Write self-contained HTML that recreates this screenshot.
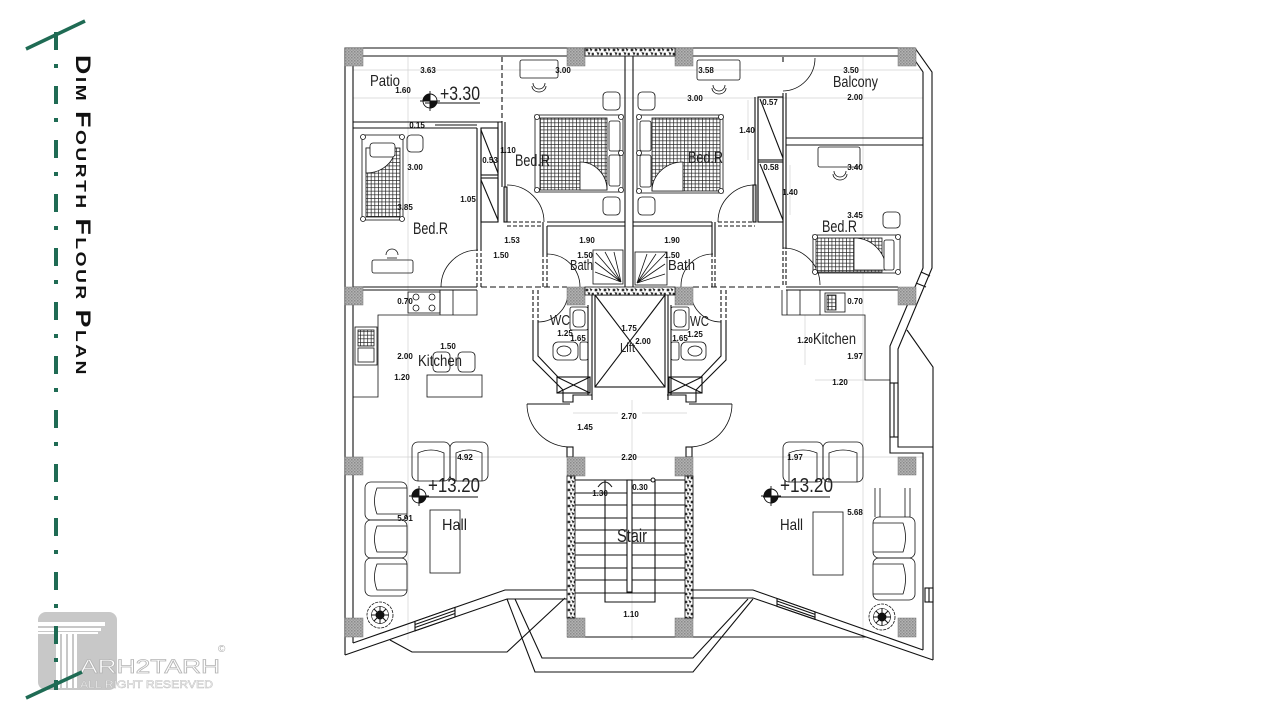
<!DOCTYPE html>
<html><head><meta charset="utf-8"><title>Dim Fourth Flour Plan</title>
<style>html,body{margin:0;padding:0;background:#fff;overflow:hidden}svg{display:block}</style>
</head><body>
<svg width="1280" height="720" viewBox="0 0 1280 720" xmlns="http://www.w3.org/2000/svg" font-family="'Liberation Sans', Arial, sans-serif">
<defs>
<pattern id="col" width="3" height="3" patternUnits="userSpaceOnUse"><rect width="3" height="3" fill="#b2b2b2"/><rect width="1.5" height="1.5" fill="#8a8a8a"/><rect x="1.5" y="1.5" width="1.5" height="1.5" fill="#999"/></pattern>
<pattern id="stone" width="9" height="8" patternUnits="userSpaceOnUse"><rect width="9" height="8" fill="#fff"/><path d="M1 1h2v2h-2z M5 0.5l2 1l-1 1.5z M3 4.5l2 0.5l-1 2z M7 5h1.5v2h-1.5z" fill="#333" stroke="#222" stroke-width="0.6"/></pattern>
<pattern id="grid" width="3.6" height="3.6" patternUnits="userSpaceOnUse"><rect width="3.6" height="3.6" fill="#fff"/><path d="M0 0.3H3.6M0.3 0V3.6" stroke="#222" stroke-width="0.8"/></pattern>
</defs>
<rect width="1280" height="720" fill="#fff"/>

<!-- logo -->
<rect x="38" y="612" width="79" height="78" rx="8" fill="#c8c8c8"/>
<g fill="#fff">
<rect x="30" y="622" width="75" height="4"/><rect x="33" y="628" width="68" height="3"/><rect x="36" y="632" width="62" height="2"/>
<rect x="56" y="634" width="4" height="54"/><rect x="62" y="634" width="4" height="54"/><rect x="68" y="634" width="4" height="54"/><rect x="74" y="634" width="3" height="54"/>
</g>
<text x="80" y="673" font-size="19" textLength="140" lengthAdjust="spacingAndGlyphs" fill="#fff" stroke="#b5b5b5" stroke-width="0.7">ARH2TARH</text>
<text x="80" y="688" font-size="11" textLength="133" lengthAdjust="spacingAndGlyphs" fill="#fff" stroke="#bcbcbc" stroke-width="0.5">ALL RIGHT RESERVED</text>
<text x="218" y="652" font-size="10" fill="#aaa">©</text>

<!-- green dashed line -->
<line x1="56" y1="32" x2="56" y2="690" stroke="#1f6b54" stroke-width="4" stroke-dasharray="18 14 4 18"/>
<line x1="26" y1="49" x2="85" y2="21" stroke="#1f6b54" stroke-width="3.5"/>
<line x1="26" y1="698" x2="82" y2="672" stroke="#1f6b54" stroke-width="3.5"/>

<!-- title -->
<g transform="translate(76,55) rotate(90)">
<text x="0" y="0" font-weight="bold" fill="#111" textLength="322" lengthAdjust="spacingAndGlyphs" letter-spacing="2"><tspan font-size="21">D</tspan><tspan font-size="15">IM </tspan><tspan font-size="21">F</tspan><tspan font-size="15">OURTH </tspan><tspan font-size="21">F</tspan><tspan font-size="15">LOUR </tspan><tspan font-size="21">P</tspan><tspan font-size="15">LAN</tspan></text>
</g>

<!-- gray axis lines -->
<g stroke="#d2d2d2" stroke-width="0.7">
<line x1="353" y1="70" x2="923" y2="70"/>
<line x1="353" y1="98" x2="923" y2="98"/>
<line x1="353" y1="457" x2="923" y2="457"/>
<line x1="408" y1="57" x2="408" y2="640"/>
<line x1="632" y1="400" x2="632" y2="640"/>
<line x1="863" y1="57" x2="863" y2="640"/>
<line x1="573" y1="413" x2="618" y2="413"/>
<line x1="642" y1="413" x2="687" y2="413"/>
<line x1="748" y1="100" x2="748" y2="160"/>
<line x1="790" y1="165" x2="790" y2="215"/>
<line x1="805" y1="315" x2="805" y2="365"/>
<line x1="815" y1="380" x2="865" y2="380"/>
</g>

<!-- main walls -->
<g fill="none" stroke="#111" stroke-width="1.1">
<path d="M345,655 V48 H915 L932,72 V268 L898,349 V447 H933"/>
<path d="M353,643 V56 H912 L923,72 V268 L890,346 V453 H923 V650"/>
<path d="M907,330 L933,367 V660"/>
<path d="M353,643 L505,590 H567"/>
<path d="M345,655 L507,599 H567"/>
<path d="M693,590 H753 L923,650"/>
<path d="M693,598 H753 L933,660"/>
<path d="M507,599 L535,672 H693 L753,599"/>
<path d="M515,599 L542,658 H693 L748,599"/>
<path d="M565,598 L507,652 H412 L390,640"/>
<path d="M693,637 H866"/>
<path d="M567,637 H693"/>
<!-- right side window on bay -->
<rect x="890" y="383" width="8" height="54" fill="#fff"/>
<line x1="894" y1="383" x2="894" y2="437"/>
<path d="M921,272 L930,276 M916,283 L926,287"/>
<rect x="925" y="588" width="8" height="14" fill="#fff"/>
<line x1="929" y1="588" x2="929" y2="602"/>
<!-- bottom windows -->
<polygon points="415,621.4 455,607.4 455,617 415,630.8" fill="#fff"/>
<path d="M415,624.5 L455,610.5 M415,627.5 L455,613.5"/>
<polygon points="777,598.5 815,611.9 815,619.3 777,606.3" fill="#fff"/>
<path d="M777,601 L815,614.4 M777,604 L815,617.2"/>

<!-- patio -->
<path d="M353,122 H502 M353,128 H477"/>
<path d="M435,125 H477"/>
<line x1="502" y1="57" x2="502" y2="122" stroke-dasharray="5 3"/>
<!-- left bedroom right wall / corridor -->
<path d="M477,128 V247 M481,128 V247"/>
<path d="M477,247 V287 M481,247 V287" stroke-dasharray="4 2"/>
<rect x="481" y="128" width="17" height="47"/><path d="M481,130 L498,173"/>
<rect x="481" y="178" width="17" height="44"/><path d="M481,180 L498,220"/>
<path d="M498,122 V222 M502,122 V187 M505,122 V187"/>
<rect x="504" y="187" width="3" height="35" fill="#ccc"/>
<path d="M507,185 A37,37 0 0 1 544,222" stroke-width="0.8"/>
<path d="M507,222 H543 M507,226 H543" stroke-dasharray="4 2"/>
<path d="M441,287 A37,37 0 0 1 478,250" stroke-width="0.8"/>
<!-- left bath -->
<path d="M543,222 V253 M547,226 V253 M547,222 H625 M547,226 H625"/>
<path d="M543,253 V287 M547,253 V287" stroke-dasharray="4 2"/>
<path d="M547,254 A33,33 0 0 1 580,287" stroke-width="0.8"/>
<path d="M625,56 V287 M633,56 V287"/>
<!-- right bath / corridor -->
<path d="M633,222 H712 M633,226 H712 M712,222 V253 M715,222 V253"/>
<path d="M712,253 V287 M715,253 V287" stroke-dasharray="4 2"/>
<path d="M713,254 A32,32 0 0 0 681,287" stroke-width="0.8"/>
<path d="M718,222 H755 M718,226 H755" stroke-dasharray="4 2"/>
<rect x="753" y="185" width="3" height="37" fill="#ccc"/>
<path d="M755,185 A37,37 0 0 0 718,222" stroke-width="0.8"/>
<path d="M755,97 V185 M758,97 V222"/>
<rect x="758" y="97" width="25" height="63"/><path d="M760,99 L783,158"/>
<rect x="758" y="162" width="25" height="60"/><path d="M760,164 L783,220"/>
<path d="M783,93 V245 M786,93 V245"/>
<path d="M783,245 V287 M786,245 V287" stroke-dasharray="4 2"/>
<path d="M783,248 A37,37 0 0 1 820,285" stroke-width="0.8"/>
<path d="M786,138 H923 M786,145 H923"/>
<path d="M815,58 A33,33 0 0 1 783,91" stroke-width="0.8"/>
<path d="M783,57 V62"/>
<!-- level 287 walls -->
<path d="M353,287 H477 M363,290 H477 M786,287 H898 M786,290 H898"/>
<path d="M481,287 H567 M693,287 H783" stroke-dasharray="6 3"/>

<!-- left WC -->
<path d="M533,290 V322 M538,290 V322" stroke-dasharray="4 2"/>
<path d="M533,322 V360 L563,390 V402 H573 V395 H592"/>
<path d="M538,322 V356 L558,377"/>
<path d="M588,305 V395 M592,295 V400"/>
<rect x="557" y="377" width="33" height="16"/><path d="M557,377 L590,393 M590,377 L557,393"/>
<path d="M538,322 A30,30 0 0 0 568,292" stroke-width="0.8"/>
<!-- lift -->
<rect x="595" y="295" width="70" height="92"/>
<path d="M595,295 L665,387 M665,295 L595,387"/>
<path d="M668,295 V400"/>
<!-- right WC -->
<path d="M726,290 V322 M721,290 V322" stroke-dasharray="4 2"/>
<path d="M726,322 V360 L696,390 V402 H686 V395 H667"/>
<path d="M721,322 V356 L701,377"/>
<path d="M671,305 V395"/>
<rect x="669" y="377" width="33" height="16"/><path d="M669,377 L702,393 M702,377 L669,393"/>
<path d="M721,322 A30,30 0 0 1 691,292" stroke-width="0.8"/>
<!-- hall doors -->
<path d="M527,404 H570 M689,404 H732"/>
<path d="M527,404 A43,43 0 0 0 570,447" stroke-width="0.8"/>
<path d="M732,404 A43,43 0 0 1 689,447" stroke-width="0.8"/>
<rect x="567" y="447" width="6" height="10"/><rect x="686" y="447" width="6" height="10"/>

<!-- stair -->
<path d="M575,480 H685 M575,493 H685 M575,505 H685 M575,518 H685 M575,530 H685 M575,543 H685 M575,555 H685 M575,568 H685 M575,580 H685 M575,593 H685"/>
<path d="M605,480 V602 H655 V480"/>
<rect x="627" y="480" width="5" height="112" fill="#fff"/>
<path d="M598,487 Q605,477 612,487 M605,480 V489" stroke-width="1"/>
<circle cx="653" cy="480" r="2" fill="#fff"/>
</g>

<!-- columns -->
<g stroke="#777" stroke-width="0.5">
<rect x="345" y="48" width="18" height="18" fill="url(#col)"/>
<rect x="567" y="48" width="18" height="18" fill="url(#col)"/>
<rect x="675" y="48" width="18" height="18" fill="url(#col)"/>
<rect x="898" y="48" width="18" height="18" fill="url(#col)"/>
<rect x="345" y="287" width="18" height="18" fill="url(#col)"/>
<rect x="567" y="287" width="18" height="18" fill="url(#col)"/>
<rect x="675" y="287" width="18" height="18" fill="url(#col)"/>
<rect x="898" y="287" width="18" height="18" fill="url(#col)"/>
<rect x="345" y="457" width="18" height="18" fill="url(#col)"/>
<rect x="567" y="457" width="18" height="19" fill="url(#col)"/>
<rect x="675" y="457" width="18" height="19" fill="url(#col)"/>
<rect x="898" y="457" width="18" height="18" fill="url(#col)"/>
<rect x="345" y="618" width="18" height="19" fill="url(#col)"/>
<rect x="567" y="618" width="18" height="19" fill="url(#col)"/>
<rect x="675" y="618" width="18" height="19" fill="url(#col)"/>
<rect x="898" y="618" width="18" height="19" fill="url(#col)"/>
</g>
<!-- stone bands -->
<g stroke="#111" stroke-width="0.8">
<rect x="585" y="48" width="90" height="8" fill="url(#stone)"/>
<rect x="585" y="287" width="90" height="8" fill="url(#stone)"/>
<rect x="567" y="476" width="8" height="142" fill="url(#stone)"/>
<rect x="685" y="476" width="8" height="142" fill="url(#stone)"/>
</g>

<!-- furniture -->
<g fill="none" stroke="#111" stroke-width="0.8">
<!-- left bedroom -->
<rect x="362" y="135" width="41" height="85"/>
<rect x="366" y="148" width="34" height="69" fill="url(#grid)"/>
<path d="M366,148 H395 A29,25 0 0 1 366,173 Z" fill="#fff"/>
<rect x="370" y="143" width="25" height="14" rx="3" fill="#fff"/>
<circle cx="363" cy="137" r="2.5" fill="#fff"/><circle cx="402" cy="137" r="2.5" fill="#fff"/><circle cx="363" cy="219" r="2.5" fill="#fff"/><circle cx="402" cy="219" r="2.5" fill="#fff"/>
<rect x="407" y="135" width="16" height="17" rx="4"/>
<rect x="372" y="260" width="41" height="13" rx="2"/>
<path d="M386,255 A6,6 0 1 1 398,255"/><path d="M387,258 H397"/>
<!-- middle-left bedroom -->
<rect x="520" y="60" width="38" height="18" rx="2"/>
<path d="M533,83 A6,6 0 0 0 545,83"/><path d="M532,86 A7,6 0 0 0 546,86"/>
<rect x="603" y="92" width="17" height="18" rx="4"/>
<rect x="603" y="197" width="17" height="18" rx="4"/>
<rect x="535" y="115" width="88" height="77"/>
<rect x="540" y="118" width="67" height="72" fill="url(#grid)"/>
<path d="M580,162 V190 H607 A27,28 0 0 0 580,162 Z" fill="#fff"/>
<rect x="609" y="121" width="11" height="30" rx="2" fill="#fff"/><rect x="609" y="155" width="11" height="31" rx="2" fill="#fff"/>
<circle cx="537" cy="117" r="2.5" fill="#fff"/><circle cx="621" cy="117" r="2.5" fill="#fff"/><circle cx="537" cy="190" r="2.5" fill="#fff"/><circle cx="621" cy="190" r="2.5" fill="#fff"/><circle cx="621" cy="153" r="2.5" fill="#fff"/>
<!-- middle-right bedroom -->
<rect x="697" y="60" width="43" height="20" rx="2"/>
<path d="M713,85 A6,6 0 0 0 725,85"/><path d="M712,88 A7,6 0 0 0 726,88"/>
<rect x="638" y="92" width="17" height="18" rx="4"/>
<rect x="638" y="197" width="17" height="18" rx="4"/>
<rect x="637" y="115" width="86" height="78"/>
<rect x="652" y="118" width="68" height="73" fill="url(#grid)"/>
<path d="M683,162 V191 H652 A31,29 0 0 1 683,162 Z" fill="#fff"/>
<rect x="640" y="121" width="11" height="30" rx="2" fill="#fff"/><rect x="640" y="155" width="11" height="32" rx="2" fill="#fff"/>
<circle cx="639" cy="117" r="2.5" fill="#fff"/><circle cx="721" cy="117" r="2.5" fill="#fff"/><circle cx="639" cy="191" r="2.5" fill="#fff"/><circle cx="721" cy="191" r="2.5" fill="#fff"/><circle cx="639" cy="153" r="2.5" fill="#fff"/>
<!-- right bedroom -->
<rect x="818" y="147" width="42" height="20" rx="2"/>
<path d="M834,171 A6,6 0 0 0 846,171"/><path d="M833,174 A7,6 0 0 0 847,174"/>
<rect x="883" y="212" width="17" height="16" rx="4"/>
<rect x="813" y="235" width="87" height="38"/>
<rect x="816" y="238" width="66" height="34" fill="url(#grid)"/>
<path d="M854,270 V238 A32,32 0 0 1 886,270 Z" fill="#fff"/>
<rect x="884" y="240" width="10" height="30" rx="2" fill="#fff"/>
<circle cx="815" cy="237" r="2.5" fill="#fff"/><circle cx="898" cy="237" r="2.5" fill="#fff"/><circle cx="815" cy="272" r="2.5" fill="#fff"/><circle cx="898" cy="272" r="2.5" fill="#fff"/>
<!-- showers -->
<rect x="593" y="250" width="30" height="34"/>
<path d="M621,282 L596,253 M621,282 L605,252 M621,282 L614,252 M621,282 L595,262 M621,282 L595,272"/>
<rect x="635" y="252" width="32" height="33"/>
<path d="M637,283 L665,254 M637,283 L656,254 M637,283 L647,254 M637,283 L665,264 M637,283 L665,274"/>
<!-- left kitchen -->
<path d="M477,290 V315 H378 V397 H353"/>
<path d="M440,290 V315 M453,290 V315"/>
<rect x="408" y="292" width="32" height="21"/>
<circle cx="416" cy="297" r="3"/><circle cx="432" cy="297" r="3"/><circle cx="416" cy="308" r="3"/><circle cx="432" cy="308" r="3"/>
<rect x="355" y="327" width="22" height="38"/>
<rect x="358" y="330" width="16" height="16" fill="url(#grid)"/><rect x="358" y="348" width="16" height="14"/>
<rect x="427" y="375" width="55" height="22"/>
<rect x="433" y="352" width="17" height="20" rx="4"/><rect x="458" y="352" width="17" height="20" rx="4"/>
<!-- WC fixtures left -->
<rect x="570" y="307" width="18" height="23" rx="2"/><rect x="573" y="310" width="12" height="17" rx="4"/>
<rect x="553" y="342" width="25" height="18" rx="5"/><ellipse cx="564" cy="351" rx="7" ry="5"/>
<rect x="580" y="342" width="8" height="18" rx="2"/>
<!-- WC fixtures right -->
<rect x="671" y="307" width="18" height="23" rx="2"/><rect x="674" y="310" width="12" height="17" rx="4"/>
<rect x="681" y="342" width="25" height="18" rx="5"/><ellipse cx="695" cy="351" rx="7" ry="5"/>
<rect x="671" y="342" width="8" height="18" rx="2"/>
<!-- right kitchen -->
<path d="M782,290 V315 H865 V380 H890 M787,290 V315"/>
<path d="M800,290 V315 M820,290 V315"/>
<rect x="825" y="293" width="20" height="19"/><rect x="827" y="295" width="9" height="15" fill="url(#grid)"/>
<!-- left hall sofas -->
<rect x="412" y="442" width="38" height="39" rx="6"/><path d="M418,481 V453 Q431,447 444,453 V481"/>
<rect x="450" y="442" width="38" height="39" rx="6"/><path d="M456,481 V453 Q469,447 482,453 V481"/>
<rect x="365" y="482" width="42" height="38" rx="6"/><path d="M407,488 H377 Q372,501 377,514 H407"/>
<rect x="365" y="520" width="42" height="38" rx="6"/><path d="M407,526 H377 Q372,539 377,552 H407"/>
<rect x="365" y="558" width="42" height="38" rx="6"/><path d="M407,564 H377 Q372,577 377,590 H407"/>
<rect x="430" y="510" width="30" height="63"/>
<!-- right hall sofas -->
<rect x="783" y="442" width="40" height="40" rx="6"/><path d="M789,482 V453 Q803,447 817,453 V482"/>
<rect x="823" y="442" width="40" height="40" rx="6"/><path d="M829,482 V453 Q843,447 857,453 V482"/>
<path d="M875,488 V517 M880,488 V517 M905,488 V517 M910,488 V517"/>
<rect x="873" y="517" width="42" height="41" rx="6"/><path d="M873,523 H903 Q908,537 903,552 H873"/>
<rect x="873" y="558" width="42" height="42" rx="6"/><path d="M873,564 H903 Q908,579 903,594 H873"/>
<rect x="813" y="512" width="30" height="63"/>
</g>

<!-- plants -->
<g stroke="#111">
<circle cx="380" cy="615" r="13" fill="#fff" stroke-width="0.8" stroke-dasharray="3 1"/>
<circle cx="380" cy="615" r="8.5" fill="none" stroke-width="0.6"/>
<path d="M371,615 H389 M380,606 V624 M374,609 L386,621 M386,609 L374,621" stroke-width="1"/>
<circle cx="380" cy="615" r="4" fill="#111"/>
<circle cx="882" cy="617" r="13" fill="#fff" stroke-width="0.8" stroke-dasharray="3 1"/>
<circle cx="882" cy="617" r="8.5" fill="none" stroke-width="0.6"/>
<path d="M873,617 H891 M882,608 V626 M876,611 L888,623 M888,611 L876,623" stroke-width="1"/>
<circle cx="882" cy="617" r="4" fill="#111"/>
</g>

<!-- level symbols -->
<g stroke="#111" stroke-width="0.9">
<circle cx="430" cy="101" r="7" fill="#fff"/>
<path d="M430,101 V94 A7,7 0 0 0 423,101 Z M430,101 V108 A7,7 0 0 0 437,101 Z" fill="#111"/>
<path d="M420,101 H440 M430,91 V111" fill="none"/>
<line x1="425" y1="103" x2="480" y2="103"/>
<circle cx="419" cy="496" r="7" fill="#fff"/>
<path d="M419,496 V489 A7,7 0 0 0 412,496 Z M419,496 V503 A7,7 0 0 0 426,496 Z" fill="#111"/>
<path d="M409,496 H429 M419,486 V506" fill="none"/>
<line x1="412" y1="497" x2="478" y2="497"/>
<circle cx="771" cy="496" r="7" fill="#fff"/>
<path d="M771,496 V489 A7,7 0 0 0 764,496 Z M771,496 V503 A7,7 0 0 0 778,496 Z" fill="#111"/>
<path d="M761,496 H781 M771,486 V506" fill="none"/>
<line x1="763" y1="497" x2="830" y2="497"/>
</g>

<!-- room labels -->
<g fill="#222" lengthAdjust="spacingAndGlyphs">
<text x="370" y="86" font-size="16" textLength="30" lengthAdjust="spacingAndGlyphs">Patio</text>
<text x="440" y="100" font-size="19" textLength="40" lengthAdjust="spacingAndGlyphs">+3.30</text>
<text x="413" y="234" font-size="17" textLength="35" lengthAdjust="spacingAndGlyphs">Bed.R</text>
<text x="515" y="166" font-size="17" textLength="35" lengthAdjust="spacingAndGlyphs">Bed.R</text>
<text x="688" y="163" font-size="17" textLength="35" lengthAdjust="spacingAndGlyphs">Bed.R</text>
<text x="822" y="232" font-size="17" textLength="35" lengthAdjust="spacingAndGlyphs">Bed.R</text>
<text x="833" y="87" font-size="16" textLength="45" lengthAdjust="spacingAndGlyphs">Balcony</text>
<text x="570" y="270" font-size="15" textLength="23" lengthAdjust="spacingAndGlyphs">Bath</text>
<text x="668" y="270" font-size="15" textLength="27" lengthAdjust="spacingAndGlyphs">Bath</text>
<text x="550" y="325" font-size="15" textLength="20" lengthAdjust="spacingAndGlyphs">WC</text>
<text x="690" y="326" font-size="15" textLength="19" lengthAdjust="spacingAndGlyphs">WC</text>
<text x="620" y="352" font-size="13" textLength="15" lengthAdjust="spacingAndGlyphs">Lift</text>
<text x="418" y="366" font-size="16" textLength="44" lengthAdjust="spacingAndGlyphs">Kitchen</text>
<text x="813" y="344" font-size="16" textLength="43" lengthAdjust="spacingAndGlyphs">Kitchen</text>
<text x="428" y="492" font-size="20" textLength="52" lengthAdjust="spacingAndGlyphs">+13.20</text>
<text x="780" y="492" font-size="20" textLength="53" lengthAdjust="spacingAndGlyphs">+13.20</text>
<text x="442" y="530" font-size="16" textLength="25" lengthAdjust="spacingAndGlyphs">Hall</text>
<text x="780" y="530" font-size="16" textLength="23" lengthAdjust="spacingAndGlyphs">Hall</text>
<text x="617" y="542" font-size="18" textLength="30" lengthAdjust="spacingAndGlyphs">Stair</text>
</g>

<!-- dimension labels -->
<g fill="#111" font-size="8" font-weight="bold" text-anchor="middle">
<text x="428" y="73">3.63</text>
<text x="403" y="93">1.60</text>
<text x="417" y="128">0.15</text>
<text x="415" y="170">3.00</text>
<text x="405" y="210">3.85</text>
<text x="468" y="202">1.05</text>
<text x="490" y="163">0.53</text>
<text x="508" y="153">1.10</text>
<text x="563" y="73">3.00</text>
<text x="512" y="243">1.53</text>
<text x="501" y="258">1.50</text>
<text x="587" y="243">1.90</text>
<text x="585" y="258">1.50</text>
<text x="706" y="73">3.58</text>
<text x="695" y="101">3.00</text>
<text x="747" y="133">1.40</text>
<text x="770" y="105">0.57</text>
<text x="771" y="170">0.58</text>
<text x="790" y="195">1.40</text>
<text x="851" y="73">3.50</text>
<text x="855" y="100">2.00</text>
<text x="855" y="170">3.40</text>
<text x="855" y="218">3.45</text>
<text x="672" y="243">1.90</text>
<text x="672" y="258">1.50</text>
<text x="405" y="304">0.70</text>
<text x="448" y="349">1.50</text>
<text x="405" y="359">2.00</text>
<text x="402" y="380">1.20</text>
<text x="565" y="336">1.25</text>
<text x="578" y="341">1.65</text>
<text x="629" y="331">1.75</text>
<text x="643" y="344">2.00</text>
<text x="680" y="341">1.65</text>
<text x="695" y="337">1.25</text>
<text x="855" y="304">0.70</text>
<text x="805" y="343">1.20</text>
<text x="855" y="359">1.97</text>
<text x="840" y="385">1.20</text>
<text x="629" y="419">2.70</text>
<text x="585" y="430">1.45</text>
<text x="629" y="460">2.20</text>
<text x="465" y="460">4.92</text>
<text x="795" y="460">1.97</text>
<text x="600" y="496">1.30</text>
<text x="640" y="490">0.30</text>
<text x="405" y="521">5.91</text>
<text x="855" y="515">5.68</text>
<text x="631" y="617">1.10</text>
</g>
</svg>
</body></html>
